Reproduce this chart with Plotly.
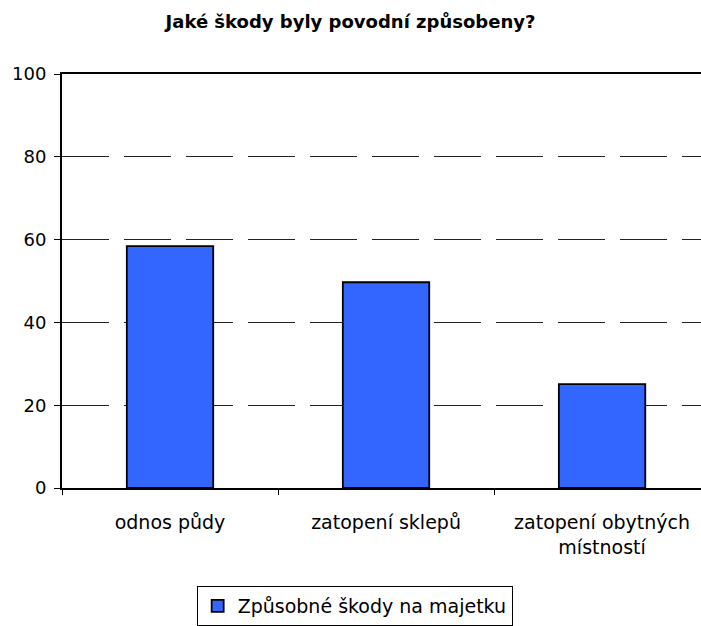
import plotly.graph_objects as go

categories = ["odnos půdy", "zatopení sklepů", "zatopení obytných<br>místností"]
values = [58.4, 49.7, 25.1]
series_name = "Způsobné škody na majetku"
title_text = "Jaké škody byly povodní způsobeny?"
y_ticks = [0, 20, 40, 60, 80, 100]

fig = go.Figure()
fig.add_trace(go.Bar(
    x=categories, y=values, name=series_name,
    width=0.4,
    marker=dict(color="#3366FF", line=dict(color="black", width=1.8)),
    showlegend=True,
))

font_family = "DejaVu Sans, sans-serif"

fig.update_layout(
    width=701, height=626,
    margin=dict(l=62, r=0, t=74, b=138),
    paper_bgcolor="white", plot_bgcolor="white",
    font=dict(family=font_family, size=18, color="black"),
    title=dict(text="<b>" + title_text + "</b>", x=0.5, xanchor="center",
               y=1 - 22 / 626, yanchor="middle", xref="container",
               font=dict(size=18, family=font_family, color="black")),
    bargap=0.6,
    showlegend=True,
    legend=dict(orientation="h", x=0.458, xanchor="center", y=-0.237, yanchor="top",
                bordercolor="black", borderwidth=1, font=dict(size=19),
                itemwidth=30),
)

fig.update_xaxes(
    type="category", range=[-0.5, 2.458],
    showline=True, linecolor="black", linewidth=2, mirror=True,
    ticks="outside", ticklen=5, tickcolor="black", tickwidth=1,
    tickson="boundaries", showgrid=False,
    tickfont=dict(size=19), ticklabelstandoff=16,
)
fig.update_yaxes(
    range=[0, 100], tickvals=y_ticks,
    showline=True, linecolor="black", linewidth=2,
    ticks="outside", ticklen=6, tickcolor="black", tickwidth=1,
    showgrid=True, gridcolor="#222222", gridwidth=1, griddash="47px,15px",
    zeroline=False, tickfont=dict(size=18), ticklabelstandoff=4,
)

fig.write_html("out.html")
